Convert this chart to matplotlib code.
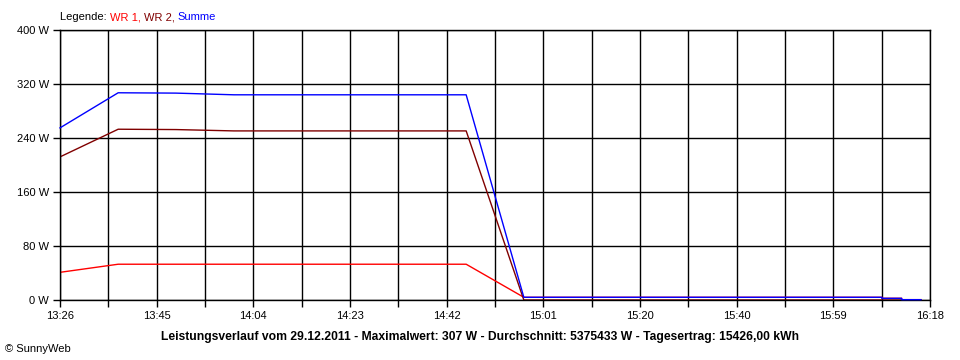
import numpy as np
import matplotlib.pyplot as plt

plt.rcParams['font.family'] = ['Liberation Sans', 'DejaVu Sans']
plt.rcParams['font.size'] = 8

# minutes after 13:26
minutes = [0, 11.5, 22.9, 34.4, 45.9, 57.3, 68.8, 80.3, 91.7, 103.2, 114.7, 126.1,
           137.6, 149.1, 162.5, 162.5, 166.4, 166.4, 170.2]
wr1 = [41, 53, 53, 53, 53, 53, 53, 53, 4, 4, 4, 4, 4, 4, 4, 2.5, 2.5, 0.5, 0.5]
wr2 = [212, 253, 252.5, 250.5, 250.5, 250.5, 250.5, 250.5, 0, 0, 0, 0, 0, 0, 0, 0, 0, 0, 0]
summe = [255, 307, 306.5, 304, 304, 304, 304, 304, 4, 4, 4, 4, 4, 4, 4, 2.5, 2.5, 0.5, 0.5]

x_labels = ['13:26', '13:45', '14:04', '14:23', '14:42', '15:01', '15:20', '15:40', '15:59', '16:18']
y_ticks = [0, 80, 160, 240, 320, 400]
title = ('Leistungsverlauf vom 29.12.2011 - Maximalwert: 307 W - '
         'Durchschnitt: 5375433 W - Tagesertrag: 15426,00 kWh')

fig = plt.figure(figsize=(9.6, 3.6), dpi=100)
ax = fig.add_axes([60 / 960, 60 / 360, 870 / 960, 270 / 360])

# WR lines stay under the axis line, Summe sits on top of it
ax.plot(minutes, wr1, color='#ff0000', lw=1, zorder=2)
ax.plot(minutes, wr2, color='#800000', lw=1, zorder=2)
ax.plot(minutes, summe, color='#0000ff', lw=1, zorder=3, clip_on=False)

# grid: 18 intervals, label every second one
grid_x = np.linspace(0, 172, 19)
ax.set_xticks(grid_x)
labels = [''] * 19
labels[::2] = x_labels
ax.set_xticklabels(labels)
ax.set_yticks(y_ticks)
ax.set_yticklabels([f'{v} W' for v in y_ticks])
ax.set_xlim(0, 172)
ax.set_ylim(0, 400)
ax.grid(True, color='black', lw=1)
ax.set_axisbelow(True)
for s in ax.spines.values():
    s.set_color('black')
    s.set_linewidth(1)
ax.tick_params(length=5, width=1, color='black', pad=3, labelsize=8)

# legend line
t0 = fig.text(60 / 960, 1 - 17 / 360, 'Legende: ', color='black', va='center', fontsize=8)
t1 = ax.annotate('WR 1, ', xy=(1, 0), xycoords=t0, va='bottom', color='#ff0000', fontsize=8)
t2 = ax.annotate('WR 2, ', xy=(1, 0), xycoords=t1, va='bottom', color='#800000', fontsize=8)
ax.annotate('Summe', xy=(1, 0), xycoords=t2, va='bottom', color='#0000ff', fontsize=8)

fig.text(0.5, 23 / 360, title, ha='center', va='center', fontsize=8.75, fontweight='bold')
fig.text(5 / 960, 11 / 360, '\u00a9 SunnyWeb', ha='left', va='center', fontsize=8)

fig.savefig('out.png', dpi=100)
